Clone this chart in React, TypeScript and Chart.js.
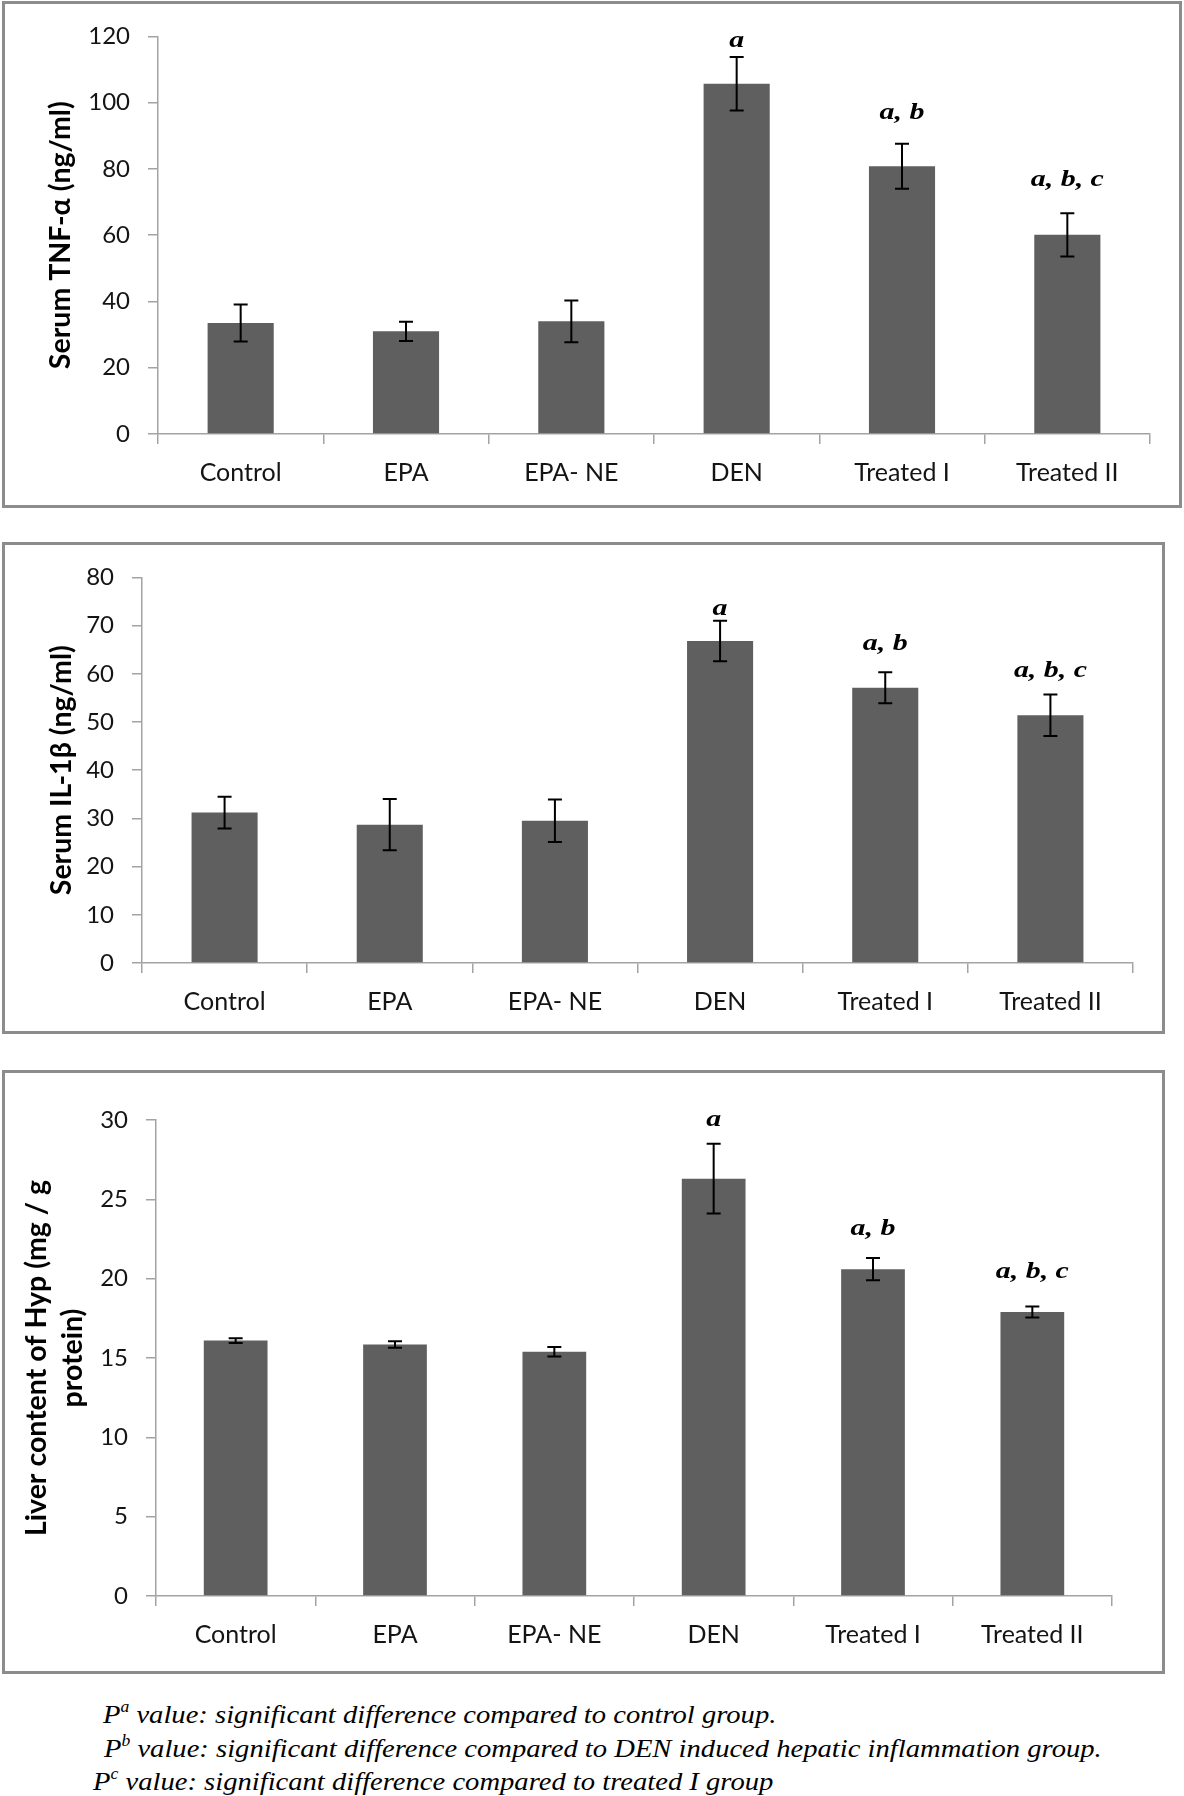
import React, { useEffect, useRef } from 'react';
import { Chart, registerables } from 'chart.js';

Chart.register(...registerables);

// ---- data ----
const categories = ['Control', 'EPA', 'EPA- NE', 'DEN', 'Treated I', 'Treated II'];
const sigLabels = ['', '', '', 'a', 'a, b', 'a, b, c'];

const tnfValues = [33.5, 31.0, 34.0, 105.7, 80.8, 60.1];
const tnfErrors = [5.6, 2.9, 6.3, 8.1, 6.8, 6.5];
const tnfLabelAt = [null, null, null, 118.6, 97.0, 76.5];
const tnfTicks = [0, 120, 20];

const il1Values = [31.2, 28.7, 29.5, 66.8, 57.1, 51.4];
const il1Errors = [3.3, 5.3, 4.4, 4.2, 3.2, 4.3];
const il1LabelAt = [null, null, null, 73.4, 66.2, 60.6];
const il1Ticks = [0, 80, 10];

const hypValues = [16.1, 15.85, 15.4, 26.3, 20.6, 17.9];
const hypErrors = [0.15, 0.2, 0.3, 2.2, 0.7, 0.35];
const hypLabelAt = [null, null, null, 30.0, 23.1, 20.4];
const hypTicks = [0, 30, 5];

const footnotes = [
  ['a', 'value: significant difference compared to control group.'],
  ['b', 'value: significant difference compared to DEN induced hepatic inflammation group.'],
  ['c', 'value: significant difference compared to treated I group'],
];

// ---- plugins ----
const errorBarPlugin = {
  id: 'errorBars',
  afterDatasetsDraw(chart: any) {
    const opts = chart.options.plugins.errorBars;
    if (!opts) return;
    const meta = chart.getDatasetMeta(0);
    const ys = chart.scales.y;
    const ctx = chart.ctx;
    ctx.save();
    ctx.strokeStyle = '#000';
    ctx.lineWidth = 2;
    meta.data.forEach((bar: any, i: number) => {
      const v = opts.values[i];
      const e = opts.errors[i];
      const yt = ys.getPixelForValue(v + e);
      const yb = ys.getPixelForValue(v - e);
      const x = bar.x;
      const cw = 7;
      ctx.beginPath();
      ctx.moveTo(x, yt);
      ctx.lineTo(x, yb);
      ctx.moveTo(x - cw, yt);
      ctx.lineTo(x + cw, yt);
      ctx.moveTo(x - cw, yb);
      ctx.lineTo(x + cw, yb);
      ctx.stroke();
    });
    // significance labels
    ctx.fillStyle = '#000';
    ctx.font = 'italic bold 23px "Liberation Serif", "Times New Roman", serif';
    ctx.textAlign = 'center';
    ctx.textBaseline = 'middle';
    meta.data.forEach((bar: any, i: number) => {
      const t = opts.labels[i];
      const at = opts.labelAt[i];
      if (!t || at == null) return;
      const y = ys.getPixelForValue(at);
      ctx.save();
      ctx.translate(bar.x, y);
      ctx.scale(1.3, 1);
      ctx.fillText(t, 0, 0);
      ctx.restore();
    });
    ctx.restore();
  },
};

type PanelProps = {
  left: number; top: number; width: number; height: number;
  values: number[]; errors: number[]; labelAt: (number | null)[];
  ticks: number[]; title: string | string[];
  yWidth: number; xHeight: number; padTop: number; padRight: number;
  titlePad: number; titleLH: number;
};

const BORDER = 3;

function Panel(p: PanelProps) {
  const ref = useRef<HTMLCanvasElement>(null);
  const iw = p.width - 2 * BORDER;
  const ih = p.height - 2 * BORDER;
  useEffect(() => {
    if (!ref.current) return;
    const axisColor = '#a3a3a3';
    const chart = new Chart(ref.current, {
      type: 'bar',
      data: {
        labels: categories,
        datasets: [{
          data: p.values,
          backgroundColor: '#5f5f5f',
          borderWidth: 0,
          barPercentage: 0.4,
          categoryPercentage: 1,
        }],
      },
      options: {
        animation: false,
        responsive: false,
        devicePixelRatio: 1,
        layout: { padding: { left: 0, top: p.padTop, right: p.padRight, bottom: 0 } },
        plugins: {
          legend: { display: false },
          tooltip: { enabled: false },
          errorBars: { values: p.values, errors: p.errors, labels: sigLabels, labelAt: p.labelAt },
        } as any,
        scales: {
          x: {
            grid: { display: true, drawOnChartArea: false, drawTicks: true, tickLength: 10, color: axisColor, lineWidth: 1.5, offset: true },
            border: { display: true, color: axisColor, width: 1.5 },
            ticks: { font: { family: 'Lato', size: 25 }, color: '#141414', padding: 14, maxRotation: 0, autoSkip: false },
            afterFit: (s: any) => { s.height = p.xHeight; },
          },
          y: {
            min: p.ticks[0],
            max: p.ticks[1],
            ticks: { stepSize: p.ticks[2], font: { family: 'Lato', size: 24 }, color: '#141414', padding: 18 },
            grid: { display: true, drawOnChartArea: false, drawTicks: true, tickLength: 10, color: axisColor, lineWidth: 1.5 },
            border: { display: true, color: axisColor, width: 1.5 },
            title: {
              display: true,
              text: p.title,
              color: '#000',
              font: { family: 'Lato', size: 28.5, weight: 'bold', lineHeight: p.titleLH / 28.5 },
              padding: { top: p.titlePad, bottom: 0 },
            },
            afterFit: (s: any) => { s.width = p.yWidth; },
          },
        },
      } as any,
      plugins: [errorBarPlugin],
    });
    return () => chart.destroy();
  }, []);
  return (
    <div style={{
      position: 'absolute', left: p.left, top: p.top, width: p.width, height: p.height,
      border: `${BORDER}px solid #8c8c8c`, boxSizing: 'border-box', background: '#fff',
    }}>
      <canvas ref={ref} width={iw} height={ih} style={{ position: 'absolute', left: 0, top: 0, width: iw, height: ih }} />
    </div>
  );
}

export default function App() {
  const noteTops = [1702, 1736, 1769];
  const noteLefts = [103, 104, 93];
  return (
    <div style={{ position: 'absolute', left: 0, top: 0, width: 1184, height: 1796, background: '#fff', overflow: 'hidden' }}>
      <Panel left={2} top={1} width={1180} height={507}
        values={tnfValues} errors={tnfErrors} labelAt={tnfLabelAt} ticks={tnfTicks}
        title={'Serum TNF-\u03b1 (ng/ml)'}
        yWidth={153} xHeight={71} padTop={30} padRight={29} titlePad={39} titleLH={34} />
      <Panel left={2} top={542} width={1163} height={492}
        values={il1Values} errors={il1Errors} labelAt={il1LabelAt} ticks={il1Ticks}
        title={'Serum IL-1\u03b2 (ng/ml)'}
        yWidth={137} xHeight={68} padTop={31} padRight={29} titlePad={40} titleLH={34} />
      <Panel left={2} top={1070} width={1163} height={604}
        values={hypValues} errors={hypErrors} labelAt={hypLabelAt} ticks={hypTicks}
        title={['Liver content of Hyp (mg / g', 'protein)']}
        yWidth={151} xHeight={75} padTop={47} padRight={50} titlePad={14} titleLH={36} />
      {footnotes.map((f, i) => (
        <div key={i} style={{
          position: 'absolute', left: noteLefts[i], top: noteTops[i], whiteSpace: 'nowrap',
          fontFamily: '"Liberation Serif", "Times New Roman", serif', fontStyle: 'italic',
          fontSize: 26, lineHeight: '26px', color: '#000',
          transform: 'scaleX(1.1)', transformOrigin: 'left top',
        }}>
          P<span style={{ fontSize: 16, position: 'relative', top: -11 }}>{f[0]}</span> {f[1]}
        </div>
      ))}
    </div>
  );
}
